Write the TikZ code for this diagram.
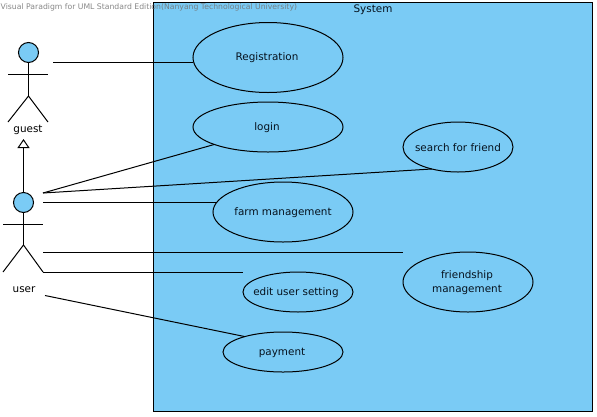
\documentclass[tikz,border=0pt]{standalone}
\usepackage{fontspec}
\setmainfont{DejaVu Sans}
\usetikzlibrary{shapes.geometric,arrows.meta}
\definecolor{sysblue}{HTML}{7ACBF5}
\definecolor{ink}{HTML}{06121E}
\tikzset{
  x=1pt,y=-1pt,
  line/.style={draw=black,line width=1pt},
  usecase/.style={ellipse,line,fill=sysblue,inner sep=0pt,outer sep=0pt},
  ucname/.style={inner sep=0pt,font=\fontsize{10.4}{14}\selectfont,align=center,text=ink,yshift=-0.5pt},
  head/.style={circle,line,fill=sysblue,inner sep=0pt,outer sep=0pt,minimum size=20pt},
  actorlabel/.style={font=\fontsize{10.4}{12}\selectfont,inner sep=0pt},
  generalize/.style={line,-{Triangle[open,length=9pt,width=12pt]}},
}
\begin{document}
\begin{tikzpicture}
\useasboundingbox (0,0) rectangle (597,416);
\fill[white] (0,0) rectangle (597,416);
\node[line,fill=sysblue,inner sep=0pt,outer sep=0pt,minimum width=438.5pt,minimum height=408.5pt,anchor=north west] (sys) at (153.5,2.7) {};
\node[font=\fontsize{10.4}{12}\selectfont,inner sep=0pt,text=ink] (systitle) at (373,9.5) {System};
\node[font=\fontsize{7.7}{9}\selectfont,inner sep=0pt,anchor=west,text=black!55,opacity=.85] (mark) at (0.5,7.5) {Visual Paradigm for UML Standard Edition(Nanyang Technological University)};

\node[usecase,minimum width=150pt,minimum height=70pt,label={[ucname,xshift=-1pt]center:Registration}] (reg) at (268,57.5) {};
\node[usecase,minimum width=150pt,minimum height=50pt,label={[ucname,xshift=-1pt]center:login}] (login) at (268,127) {};
\node[usecase,minimum width=110pt,minimum height=50pt,label={[ucname]center:search for friend}] (search) at (458,147) {};
\node[usecase,minimum width=140pt,minimum height=60pt,label={[ucname]center:farm management}] (farm) at (283,212) {};
\node[usecase,minimum width=130pt,minimum height=60pt,label={[ucname,xshift=-1pt]center:{friendship\\management}}] (friend) at (468,282) {};
\node[usecase,minimum width=110pt,minimum height=40pt,label={[ucname,xshift=-2pt]center:edit user setting}] (edit) at (298,292) {};
\node[usecase,minimum width=120pt,minimum height=40pt,label={[ucname,xshift=-1pt]center:payment}] (pay) at (283,352) {};

% guest actor
\node[head] (ghead) at (28.5,52.5) {};
\coordinate (gcrotch) at (28.5,96);
\coordinate (gla) at (8,74); \coordinate (gra) at (48,74);
\coordinate (gll) at (8,122); \coordinate (grl) at (48,122);
\draw[line] (ghead.south) -- (gcrotch);
\draw[line] (gla) -- (gra);
\draw[line] (gll) -- (gcrotch) -- (grl);
\node[actorlabel] (guest) at (28,129.5) {guest};

% user actor
\node[head] (uhead) at (23.5,202.5) {};
\coordinate (ucrotch) at (23.5,245);
\coordinate (ula) at (3,224); \coordinate (ura) at (43,224);
\coordinate (ull) at (3,272); \coordinate (url) at (43,272);
\draw[line] (uhead.south) -- (ucrotch);
\draw[line] (ula) -- (ura);
\draw[line] (ull) -- (ucrotch) -- (url);
\node[actorlabel] (user) at (24,289.5) {user};

% generalization
\coordinate (gtip) at (23.5,139);
\draw[generalize] (uhead.north) -- (gtip);

% free ends
\coordinate (gout) at (53,62);
\coordinate (uout) at (43,193);
\coordinate (uout2) at (43,202);
\coordinate (uout3) at (43,252);
\coordinate (uout4) at (45,295.5);
\coordinate (friendend) at (403,252);
\coordinate (editend) at (243,272);

\draw[line] (gout) -- (gout -| reg.west);
\draw[line] (uout) -- (login.198.8);
\draw[line] (uout) -- (search.220.9);
\draw[line] (uout2) -- (uout2 -| farm.171.4);
\draw[line] (uout3) -- (friendend);
\draw[line] (url) -- (editend);
\draw[line] (uout4) -- (pay.158.5);
\end{tikzpicture}
\end{document}
